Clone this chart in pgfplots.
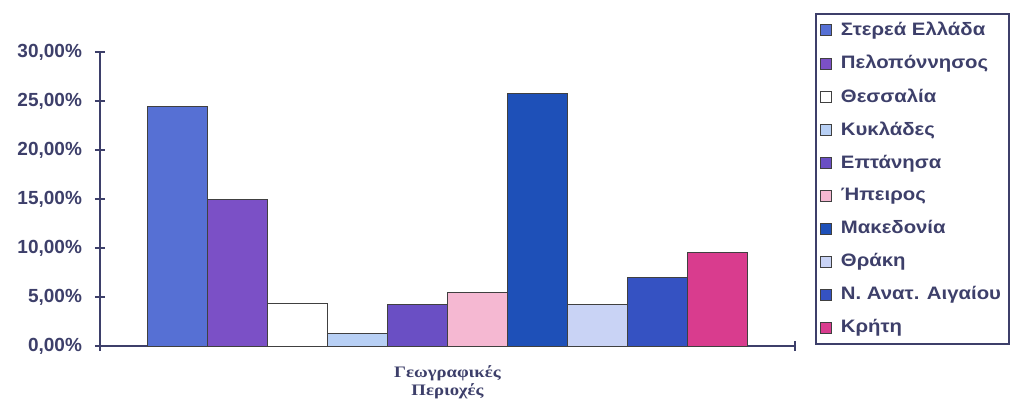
\documentclass[border=0pt]{standalone}
\usepackage{fontspec}
\setmainfont{Liberation Sans}
\newfontfamily\serifgr{Liberation Serif}
\usepackage{graphicx}
\usepackage{pgfplots}
\pgfplotsset{compat=1.18}

\definecolor{ink}{HTML}{3D3F6A}
\definecolor{c1}{HTML}{5670D4}
\definecolor{c2}{HTML}{7B50C6}
\definecolor{c3}{HTML}{FFFFFF}
\definecolor{c4}{HTML}{B8D0F5}
\definecolor{c5}{HTML}{6A4FC4}
\definecolor{c6}{HTML}{F5B8D2}
\definecolor{c7}{HTML}{1E50B8}
\definecolor{c8}{HTML}{C9D3F5}
\definecolor{c9}{HTML}{3552C2}
\definecolor{c10}{HTML}{D93C8E}

% the scanned text is a little stretched sideways
\newcommand\wide[2][1.13]{\scalebox{#1}[1]{#2}}
\newcommand\entry[1]{\addlegendentry{\kern2.5pt\wide{#1}}}

\begin{document}
\begin{tikzpicture}
\begin{axis}[
    name=ax,
    scale only axis,
    width=347.5pt, height=147pt,
    ybar=0pt, bar width=30pt,
    xmin=-1, xmax=1, ymin=0, ymax=30,
    axis x line*=bottom, axis y line*=left,
    axis line style={ink, line width=1pt},
    tick style={ink, line width=1pt},
    tick align=center, major tick length=5pt,
    xtick={-1,1}, xticklabels={},
    ytick={0,5,...,30},
    /pgf/number format/assume math mode=true,
    yticklabel={\pgfmathprintnumber[fixed,fixed zerofill,precision=2,use comma]{\tick}\%},
    yticklabel style={font=\bfseries\fontsize{9.5}{11}\selectfont, text=ink, xshift=-3pt},
    xlabel={\wide[1.17]{Γεωγραφικές}\\\wide[1.17]{Περιοχές}},
    xlabel style={font=\serifgr\bfseries\fontsize{8}{9}\selectfont, text=ink,
        align=center, at={(axis description cs:0.5,0)}, anchor=north, yshift=-6.5pt},
    legend image code/.code={\draw[#1, line width=0.4pt] (0pt,-2.75pt) rectangle (5.5pt,2.75pt);},
    legend cell align=left,
    legend style={at={(1.029,1.133)}, anchor=north west, draw=ink, line width=1pt,
        font=\bfseries\fontsize{9}{10}\selectfont, text=ink, row sep=4.4pt,
        inner sep=2pt},
]
\addplot[fill=c1, draw=black!75, line width=0.4pt] coordinates {(0,24.4)};
\entry{Στερεά Ελλάδα}
\addplot[fill=c2, draw=black!75, line width=0.4pt] coordinates {(0,15.0)};
\entry{Πελοπόννησος}
\addplot[fill=c3, draw=black!75, line width=0.4pt] coordinates {(0,4.3)};
\entry{Θεσσαλία}
\addplot[fill=c4, draw=black!75, line width=0.4pt] coordinates {(0,1.3)};
\entry{Κυκλάδες}
\addplot[fill=c5, draw=black!75, line width=0.4pt] coordinates {(0,4.2)};
\entry{Επτάνησα}
\addplot[fill=c6, draw=black!75, line width=0.4pt] coordinates {(0,5.5)};
\entry{Ήπειρος}
\addplot[fill=c7, draw=black!75, line width=0.4pt] coordinates {(0,25.8)};
\entry{Μακεδονία}
\addplot[fill=c8, draw=black!75, line width=0.4pt] coordinates {(0,4.2)};
\entry{Θράκη}
\addplot[fill=c9, draw=black!75, line width=0.4pt] coordinates {(0,7.0)};
\entry{Ν. Ανατ. Αιγαίου}
\addplot[fill=c10, draw=black!75, line width=0.4pt] coordinates {(0,9.6)};
\entry{Κρήτη}
\end{axis}
\pgfresetboundingbox
\path (ax.south west) ++(-50pt,-28.5pt) rectangle ++(505.5pt,201.5pt);
\end{tikzpicture}
\end{document}
